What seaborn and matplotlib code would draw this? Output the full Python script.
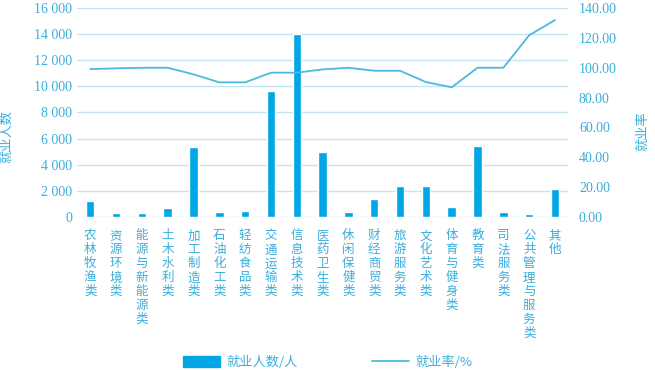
import numpy as np
import matplotlib
matplotlib.use("Agg")
import matplotlib.pyplot as plt
from matplotlib.ticker import FuncFormatter, MultipleLocator
from matplotlib.patches import Patch
from matplotlib.lines import Line2D
import seaborn as sns

categories = ["农林牧渔类", "资源环境类", "能源与新能源类", "土木水利类", "加工制造类",
              "石油化工类", "轻纺食品类", "交通运输类", "信息技术类", "医药卫生类",
              "休闲保健类", "财经商贸类", "旅游服务类", "文化艺术类", "体育与健身类",
              "教育类", "司法服务类", "公共管理与服务类", "其他"]
employed = [1200, 280, 280, 640, 5330, 360, 430, 9650, 14000, 4980,
            380, 1400, 2340, 2390, 790, 5460, 380, 250, 2130]
rate = [99.1, 99.6, 100.0, 100.0, 95.6, 90.2, 90.2, 96.7, 96.7, 98.9,
        100.0, 98.0, 98.0, 90.4, 86.9, 100.0, 100.0, 121.8, 132.0]

bar_color = "#00a6e6"
line_color = "#4cb9e2"
text_color = "#3aaedb"
grid_color = "#c4e6f4"

sns.set_theme(style="white")
cjk = ["Noto Sans CJK SC", "DejaVu Sans"]
plt.rcParams["font.family"] = ["Liberation Serif", "DejaVu Serif"]

fig = plt.figure(figsize=(6.55, 3.7), dpi=100)
ax = fig.add_axes([0.118, 0.414, 0.749, 0.564])

x = np.arange(len(categories))
sns.barplot(x=x, y=employed, ax=ax, color=bar_color, width=0.33, saturation=1, zorder=3)
ax.set_xlim(-0.5, len(categories) - 0.5)
ax.set_ylim(0, 16000)
ax.yaxis.set_major_locator(MultipleLocator(2000))
ax.yaxis.set_major_formatter(FuncFormatter(lambda v, p: f"{int(v):,}".replace(",", " ")))
ax.grid(axis="y", color=grid_color, linewidth=1, zorder=0)
ax.set_axisbelow(True)
ax.set_xticks(x)
ax.set_xticklabels(["\n".join(c) for c in categories], family=cjk, fontsize=9,
                   color=text_color, linespacing=1.1, va="top")
ax.tick_params(axis="y", length=0, colors=text_color, labelsize=10,
               labelfontfamily="Liberation Serif")
ax.tick_params(axis="x", length=0, pad=9)
for s in ax.spines.values():
    s.set_visible(False)
ax.set_ylabel("就业人数", family=cjk, fontsize=9.5, color=text_color, va="center")
ax.yaxis.set_label_coords(-0.145, 0.385)

ax2 = ax.twinx()
sns.lineplot(x=x, y=rate, ax=ax2, color=line_color, linewidth=1.3)
ax2.set_ylim(0, 140)
ax2.yaxis.set_major_locator(MultipleLocator(20))
ax2.yaxis.set_major_formatter(FuncFormatter(lambda v, p: f"{v:.2f}"))
ax2.tick_params(axis="y", length=0, colors=text_color, labelsize=10, pad=8,
                labelfontfamily="Liberation Serif")
for s in ax2.spines.values():
    s.set_visible(False)
ax2.grid(False)
ax2.set_ylabel("就业率", family=cjk, fontsize=9.5, color=text_color, rotation=90,
               va="center")
ax2.yaxis.set_label_coords(1.153, 0.41)
ax2.set_xlim(-0.5, len(categories) - 0.5)

handles = [Patch(color=bar_color), Line2D([], [], color=line_color, linewidth=1.3)]
fig.legend(handles, ["就业人数/人", "就业率/%"], loc="lower center", ncol=2, frameon=False,
           bbox_to_anchor=(0.5, -0.03), prop={"family": cjk, "size": 9.5},
           labelcolor=text_color, handlelength=2.8, handleheight=0.9,
           handletextpad=0.5, columnspacing=5.6)

fig.savefig("out.png", dpi=100)
